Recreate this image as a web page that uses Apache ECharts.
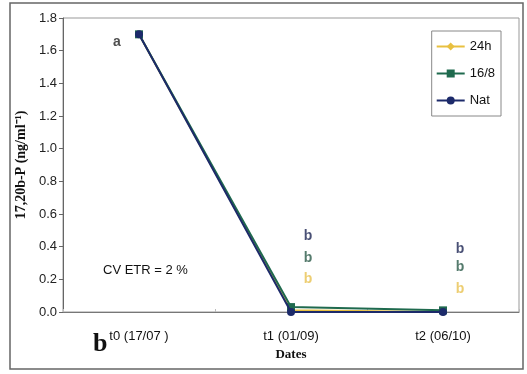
<!DOCTYPE html>
<html><head><meta charset="utf-8">
<script src="https://cdn.jsdelivr.net/npm/echarts@6/dist/echarts.min.js"></script>
<style>html,body{margin:0;padding:0;background:#fff}#c{width:527px;height:374px}</style>
</head><body><div id="c"></div>
<script>
const categories = ['t0 (17/07 )', 't1 (01/09)', 't2 (06/10)'];
const s24h = [1.70, 0.01, 0.00];
const s168 = [1.70, 0.03, 0.01];
const sNat = [1.70, 0.00, 0.00];
const yTicks = [0, 0.2, 0.4, 0.6, 0.8, 1.0, 1.2, 1.4, 1.6, 1.8];
// significance letters: [categoryIndex, value, text, colour]
const letters = [
  [0, 1.65, 'a', '#222'],
  [1, 0.465, 'b', '#1c2452'],
  [1, 0.33, 'b', '#2a5a48'],
  [1, 0.20, 'b', '#e8c250'],
  [2, 0.385, 'b', '#1c2452'],
  [2, 0.275, 'b', '#2a5a48'],
  [2, 0.14, 'b', '#e8c250']
];
const chart = echarts.init(document.getElementById('c'));
const letterSeries = letters.map(function (l) {
  return {
    type: 'scatter', silent: true, symbolSize: 0, z: 5,
    data: [[l[0], l[1]]],
    label: { show: true, formatter: l[2], position: 'inside',
      offset: [l[0] === 0 ? -22 : 17, 0],
      color: l[3], fontSize: 14, fontWeight: 'bold', fontFamily: 'Liberation Sans' }
  };
});
chart.setOption({
  animation: false,
  grid: { left: 63, top: 18, right: 8, bottom: 62, show: true, borderColor: '#999', borderWidth: 1 },
  legend: {
    data: ['24h', '16/8', 'Nat'], orient: 'vertical', right: 26, top: 31,
    itemWidth: 28, itemHeight: 10, itemGap: 14,
    borderColor: '#888', borderWidth: 1, padding: [9, 6, 9, 4], backgroundColor: '#fff',
    textStyle: { fontFamily: 'Liberation Sans', fontSize: 13, color: '#111' }
  },
  xAxis: {
    type: 'category', data: categories, boundaryGap: true,
    name: 'Dates', nameLocation: 'middle', nameGap: 31,
    nameTextStyle: { fontFamily: 'Liberation Serif', fontWeight: 'bold', fontSize: 13, color: '#111' },
    axisLine: { lineStyle: { color: '#777' } },
    axisTick: { show: true, length: 3, inside: true, lineStyle: { color: '#bbb' } },
    axisLabel: { fontFamily: 'Liberation Sans', fontSize: 13, color: '#111', margin: 18 }
  },
  yAxis: {
    type: 'value', min: 0, max: 1.8, interval: 0.2,
    name: '17,20b-P (ng/ml⁻¹)', nameLocation: 'middle', nameGap: 35,
    nameTextStyle: { fontFamily: 'Liberation Serif', fontWeight: 'bold', fontSize: 14, color: '#111' },
    axisLine: { show: true, lineStyle: { color: '#666' } },
    axisTick: { show: true, length: 4, lineStyle: { color: '#666' } },
    splitLine: { show: false },
    axisLabel: { fontFamily: 'Liberation Sans', fontSize: 13, color: '#222', margin: 6,
      formatter: function (v) { return yTicks.indexOf(Math.round(v * 10) / 10) >= 0 ? v.toFixed(1) : ''; } }
  },
  graphic: [
    { type: 'rect', shape: { x: 10, y: 3, width: 513, height: 366 }, style: { fill: 'none', stroke: '#666', lineWidth: 1.5 }, silent: true },
    { type: 'text', left: 93, top: 331, style: { text: 'b', font: 'bold 26px "Liberation Serif"', fill: '#111' } },
    { type: 'text', left: 103, top: 264, style: { text: 'CV ETR = 2 %', font: '13px "Liberation Sans"', fill: '#111' } }
  ],
  series: [
    { name: '24h', type: 'line', data: s24h, symbol: 'diamond', symbolSize: 8, z: 1,
      itemStyle: { color: '#e8c040' }, lineStyle: { color: '#e8c040', width: 2 } },
    { name: '16/8', type: 'line', data: s168, symbol: 'rect', symbolSize: 8, z: 2,
      itemStyle: { color: '#1f6a4e' }, lineStyle: { color: '#1f6a4e', width: 2 } },
    { name: 'Nat', type: 'line', data: sNat, symbol: 'circle', symbolSize: 8, z: 3,
      itemStyle: { color: '#1c2a6a' }, lineStyle: { color: '#1c2a6a', width: 2 } }
  ].concat(letterSeries)
});
</script></body></html>
